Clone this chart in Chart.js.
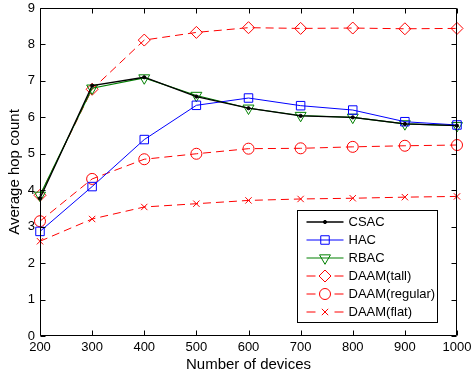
<!DOCTYPE html>
<html><head><meta charset="utf-8">
<script src="https://cdn.jsdelivr.net/npm/chart.js@4/dist/chart.umd.min.js"></script>
<style>html,body{margin:0;padding:0;background:#fff}#wrap{width:471px;height:376px}</style>
</head><body><div id="wrap"><canvas id="c" width="471" height="376"></canvas></div>
<script>
const devices = [200, 300, 400, 500, 600, 700, 800, 900, 1000];
const csac = [3.78, 6.87, 7.10, 6.57, 6.25, 6.04, 6.00, 5.82, 5.77];
const hac = [2.87, 4.10, 5.39, 6.33, 6.53, 6.32, 6.20, 5.88, 5.79];
const rbac = [3.86, 6.80, 7.08, 6.60, 6.25, 6.05, 6.00, 5.82, 5.77];
const daamTall = [3.86, 6.77, 8.12, 8.33, 8.46, 8.44, 8.45, 8.43, 8.44];
const daamRegular = [3.15, 4.31, 4.85, 5.00, 5.14, 5.15, 5.19, 5.22, 5.24];
const daamFlat = [2.60, 3.21, 3.54, 3.63, 3.72, 3.76, 3.78, 3.81, 3.83];
const xTicks = [200, 300, 400, 500, 600, 700, 800, 900, 1000];
const yTicks = [0, 1, 2, 3, 4, 5, 6, 7, 8, 9];
const xTitle = 'Number of devices';
const yTitle = 'Average hop count';

const FONT = '"Liberation Sans", Arial, Helvetica, sans-serif';
const RED = '#ff0000', BLUE = '#0000ff', GREEN = '#008000', BLACK = '#000000';
const DASH = [8, 5];

function pts(arr) { return devices.map((d, i) => ({x: d, y: arr[i]})); }

const seriesDefs = [
  {label: 'CSAC', data: csac, color: BLACK, style: 'circle', radius: 1.6, rot: 0, dash: [], width: 1.3, fill: true},
  {label: 'HAC', data: hac, color: BLUE, style: 'rect', radius: 6, rot: 0, dash: [], width: 1, fill: false},
  {label: 'RBAC', data: rbac, color: GREEN, style: 'triangle', radius: 6.3, rot: 180, dash: [], width: 1.2, fill: false},
  {label: 'DAAM(tall)', data: daamTall, color: RED, style: 'rectRot', radius: 6, rot: 0, dash: DASH, width: 1, fill: false},
  {label: 'DAAM(regular)', data: daamRegular, color: RED, style: 'circle', radius: 5.5, rot: 0, dash: DASH, width: 1, fill: false},
  {label: 'DAAM(flat)', data: daamFlat, color: RED, style: 'crossRot', radius: 4.5, rot: 0, dash: DASH, width: 1, fill: false}
];

const datasets = seriesDefs.map(s => ({
  label: s.label,
  data: pts(s.data),
  borderColor: s.color,
  backgroundColor: s.fill ? s.color : 'rgba(0,0,0,0)',
  borderWidth: s.width,
  borderDash: s.dash,
  pointStyle: s.style,
  pointRadius: s.radius,
  pointRotation: s.rot,
  pointBorderColor: s.color,
  pointBackgroundColor: s.fill ? s.color : 'rgba(0,0,0,0)',
  pointBorderWidth: 1,
  tension: 0,
  clip: false
}));

const framePlugin = {
  id: 'frame',
  afterDatasetsDraw(chart) {
    const ctx = chart.ctx, a = chart.chartArea;
    const xs = chart.scales.x, ys = chart.scales.y;
    ctx.save();
    ctx.strokeStyle = '#000'; ctx.lineWidth = 1; ctx.setLineDash([]);
    const L = Math.round(a.left) + 0.5, R = Math.round(a.right) - 0.5;
    const T = Math.round(a.top) + 0.5, B = Math.round(a.bottom) - 0.5;
    ctx.beginPath();
    ctx.rect(L, T, R - L, B - T);
    const tl = 5;
    xTicks.forEach(v => {
      const px = Math.round(xs.getPixelForValue(v)) + 0.5;
      ctx.moveTo(px, B); ctx.lineTo(px, B - tl);
      ctx.moveTo(px, T); ctx.lineTo(px, T + tl);
    });
    yTicks.forEach(v => {
      const py = Math.round(ys.getPixelForValue(v)) + 0.5;
      ctx.moveTo(L, py); ctx.lineTo(L + tl, py);
      ctx.moveTo(R, py); ctx.lineTo(R - tl, py);
    });
    ctx.stroke();

    // legend
    const bw = 140, bh = 112;
    const bx = Math.round(a.right) - 20 - bw + 0.5;
    const by = Math.round(a.bottom) - 14 - bh + 0.5;
    ctx.fillStyle = '#fff';
    ctx.fillRect(bx, by, bw, bh);
    ctx.strokeStyle = '#000';
    ctx.strokeRect(bx, by, bw, bh);
    ctx.font = '13px ' + FONT;
    ctx.textBaseline = 'middle';
    ctx.textAlign = 'left';
    seriesDefs.forEach((s, i) => {
      const yy = by + 11.5 + i * 18;
      const x0 = bx + 9, x1 = bx + 46, xm = (x0 + x1) / 2;
      ctx.strokeStyle = s.color; ctx.lineWidth = s.width;
      ctx.setLineDash([]);
      ctx.beginPath();
      if (s.dash.length) {
        ctx.moveTo(x0, yy); ctx.lineTo(x0 + 9, yy);
        ctx.moveTo(x1 - 9, yy); ctx.lineTo(x1, yy);
      } else {
        ctx.moveTo(x0, yy); ctx.lineTo(x1, yy);
      }
      ctx.stroke();
      ctx.lineWidth = 1;
      ctx.fillStyle = s.fill ? s.color : 'rgba(0,0,0,0)';
      Chart.helpers.drawPoint(ctx, {pointStyle: s.style, radius: s.radius, rotation: s.rot, borderWidth: 1}, xm, yy);
      ctx.fillStyle = '#000';
      ctx.fillText(s.label, bx + 51, yy + 0.5);
    });
    ctx.restore();
  }
};

new Chart(document.getElementById('c'), {
  type: 'line',
  data: {datasets},
  options: {
    responsive: false,
    animation: false,
    devicePixelRatio: 1,
    events: [],
    layout: {padding: {left: 0, right: 14, top: 8, bottom: 0}},
    plugins: {legend: {display: false}, tooltip: {enabled: false}},
    scales: {
      x: {
        type: 'linear', min: 200, max: 1000,
        afterBuildTicks: s => { s.ticks = xTicks.map(v => ({value: v})); },
        afterFit: s => { s.height = 40; s.paddingLeft = 0; s.paddingRight = 0; },
        grid: {display: false, drawTicks: false, tickLength: 0},
        border: {display: false},
        ticks: {color: '#000', font: {family: FONT, size: 13}, padding: 4, maxRotation: 0, autoSkip: false, callback: v => String(v)},
        title: {display: true, text: xTitle, color: '#000', font: {family: FONT, size: 15}, padding: {top: 0, bottom: 2}}
      },
      y: {
        type: 'linear', min: 0, max: 9,
        afterBuildTicks: s => { s.ticks = yTicks.map(v => ({value: v})); },
        afterFit: s => { s.width = 40; s.paddingTop = 0; s.paddingBottom = 0; },
        grid: {display: false, drawTicks: false, tickLength: 0},
        border: {display: false},
        ticks: {color: '#000', font: {family: FONT, size: 13}, padding: 5, autoSkip: false, callback: v => String(v)},
        title: {display: true, text: yTitle, color: '#000', font: {family: FONT, size: 15}, padding: {top: 6, bottom: 0}}
      }
    }
  },
  plugins: [framePlugin]
});
</script>
</body></html>
